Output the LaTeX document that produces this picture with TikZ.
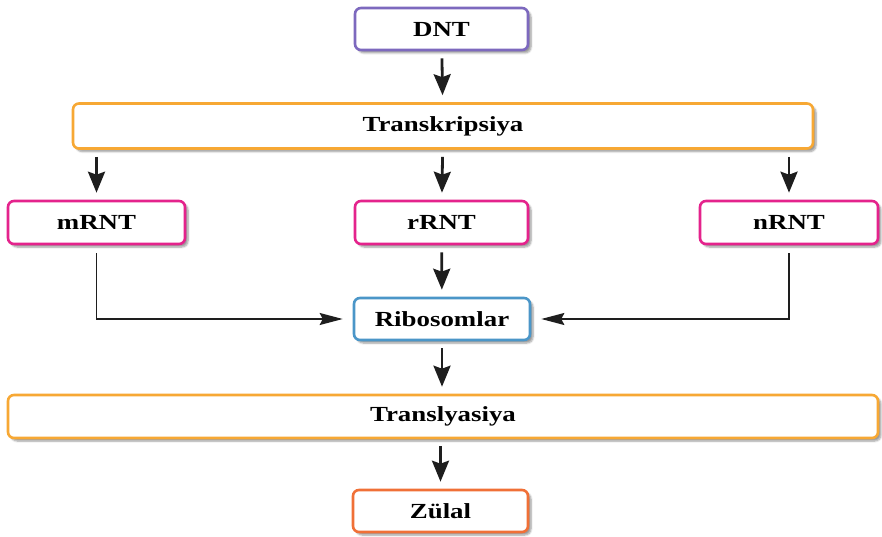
\documentclass[tikz,border=0pt]{standalone}
\usepackage{fontspec}
\setmainfont{Liberation Serif}[FakeStretch=1.25]
\usetikzlibrary{arrows.meta,shadows.blur}
\definecolor{cdnt}{RGB}{125,105,190}
\definecolor{ctrans}{RGB}{247,168,52}
\definecolor{crnt}{RGB}{228,35,140}
\definecolor{cribo}{RGB}{75,150,200}
\definecolor{czul}{RGB}{240,112,55}
\definecolor{carrow}{RGB}{30,30,30}
\tikzset{
  box/.style={draw, line width=2.6pt, rounded corners=6pt, fill=white,
    font=\bfseries\fontsize{21.5}{24}\selectfont, text=black,
    blur shadow={shadow xshift=3pt, shadow yshift=-3pt, shadow blur steps=6, shadow opacity=40}},
  flow/.style={draw=carrow, line width=2.8pt, -{Stealth[length=21pt,width=17pt,inset=3pt]}},
  feed/.style={draw=carrow, line width=1.6pt, -{Stealth[length=23pt,width=12pt,inset=3pt]}},
}
\begin{document}
\begin{tikzpicture}[x=1pt,y=-1pt]
\useasboundingbox (0,0) rectangle (882,537);
\node[box, draw=cdnt, minimum width=173pt, minimum height=42pt] (dnt) at (441.5,29) {DNT};
\node[box, draw=ctrans, minimum width=740pt, minimum height=45pt] (trans) at (443,126) {Transkripsiya};
\node[box, draw=crnt, minimum width=177pt, minimum height=43pt] (mrnt) at (96.5,222.5) {mRNT};
\node[box, draw=crnt, minimum width=173pt, minimum height=43pt] (rrnt) at (441.5,222.5) {rRNT};
\node[box, draw=crnt, minimum width=178pt, minimum height=43pt] (nrnt) at (789,222.5) {nRNT};
\node[box, draw=cribo, minimum width=176pt, minimum height=42pt] (ribo) at (442,319) {Ribosomlar};
\node[box, draw=ctrans, minimum width=870pt, minimum height=43pt] (transl) at (443,416.5) {Translyasiya};
\node[box, draw=czul, minimum width=175pt, minimum height=42pt] (zul) at (440.5,511) {Zülal};

\draw[flow, shorten <=7pt, shorten >=7pt] (dnt) -- (trans);
\draw[flow, shorten <=7pt, shorten >=7pt] (trans.south -| mrnt) -- (mrnt);
\draw[flow, shorten <=7pt, shorten >=7pt] (trans) -- (rrnt);
\draw[flow, shorten <=7pt, shorten >=7pt] (trans.south -| nrnt) -- (nrnt);
\draw[flow, shorten <=7pt, shorten >=7pt] (rrnt) -- (ribo);
\draw[flow, shorten <=7pt, shorten >=7pt] (ribo) -- (transl.north -| ribo);
\draw[flow, shorten <=7pt, shorten >=7pt] (transl.south -| zul) -- (zul);
\draw[feed, shorten <=8pt, shorten >=10pt] (mrnt.south) |- (ribo.west);
\draw[feed, shorten <=8pt, shorten >=10pt] (nrnt.south) |- (ribo.east);
\end{tikzpicture}
\end{document}
